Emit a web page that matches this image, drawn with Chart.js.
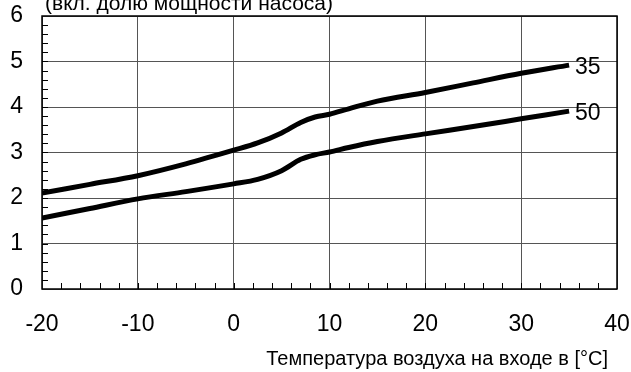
<!DOCTYPE html>
<html lang="ru">
<head>
    <meta charset="UTF-8">
    <title>COP</title>
    <script src="https://cdn.jsdelivr.net/npm/chart.js"></script>
    <style>
        body { margin: 0; background: #fff; }
        #wrap { width: 631px; height: 372px; }
    </style>
</head>
<body>
    <div id="wrap"><canvas id="copChart" width="631" height="372"></canvas></div>

    <script>
        // Air inlet temperature, °C
        var temps = [-20, -15, -10, -5, 0, 2.5, 5, 7, 8.5, 10, 12, 15, 20, 25, 30, 35];
        // Flow temperature 35 °C
        var cop35 = [2.11, 2.30, 2.49, 2.75, 3.05, 3.21, 3.43, 3.66, 3.78, 3.84, 3.96, 4.13, 4.32, 4.53, 4.74, 4.92];
        // Flow temperature 50 °C
        var cop50 = [1.56, 1.77, 1.98, 2.14, 2.31, 2.41, 2.60, 2.85, 2.95, 3.01, 3.11, 3.24, 3.41, 3.57, 3.74, 3.91];
        var seriesNames = ['35', '50'];
        var topTitle = '(вкл. долю мощности насоса)';
        var xTitle = 'Температура воздуха на входе в [°C]';

        var fontFamily = '"Liberation Sans", Arial, sans-serif';

        function toPoints(ys) {
            return temps.map(function (t, i) { return { x: t, y: ys[i] }; });
        }

        // frame, inner minor ticks, end labels and texts
        var decorPlugin = {
            id: 'decor',
            afterDraw: function (chart) {
                var ctx = chart.ctx;
                var area = chart.chartArea;
                var xs = chart.scales.x;
                var ys = chart.scales.y;
                ctx.save();

                // minor ticks pointing inward
                ctx.strokeStyle = '#000';
                ctx.lineWidth = 1;
                ctx.beginPath();
                for (var v = 0.2; v < 6; v += 0.2) {
                    var py = Math.round(ys.getPixelForValue(v)) + 0.5;
                    ctx.moveTo(area.left, py);
                    ctx.lineTo(area.left + 6, py);
                }
                for (var t = -18; t < 40; t += 2) {
                    var px = Math.round(xs.getPixelForValue(t)) + 0.5;
                    ctx.moveTo(px, area.bottom);
                    ctx.lineTo(px, area.bottom - 6);
                }
                ctx.stroke();

                // frame
                ctx.lineWidth = 1.5;
                ctx.strokeRect(area.left, area.top, area.right - area.left, area.bottom - area.top);

                // series labels at line ends
                ctx.fillStyle = '#000';
                ctx.font = '23px ' + fontFamily;
                ctx.textAlign = 'left';
                ctx.textBaseline = 'middle';
                chart.data.datasets.forEach(function (ds, i) {
                    var meta = chart.getDatasetMeta(i);
                    var last = meta.data[meta.data.length - 1];
                    ctx.fillText(seriesNames[i], last.x + 6, last.y + 3);
                });

                // texts
                ctx.textBaseline = 'alphabetic';
                ctx.font = '21px ' + fontFamily;
                ctx.fillText(topTitle, 45, 10);
                ctx.font = '20px ' + fontFamily;
                ctx.textAlign = 'right';
                ctx.fillText(xTitle, 608, 365);
                ctx.restore();
            }
        };

        var ctx = document.getElementById('copChart').getContext('2d');
        var myChart = new Chart(ctx, {
            type: 'line',
            data: {
                datasets: [{
                    label: seriesNames[0],
                    data: toPoints(cop35),
                    borderColor: '#000',
                    borderWidth: 5,
                    pointRadius: 0,
                    cubicInterpolationMode: 'monotone',
                    fill: false
                }, {
                    label: seriesNames[1],
                    data: toPoints(cop50),
                    borderColor: '#000',
                    borderWidth: 5,
                    pointRadius: 0,
                    cubicInterpolationMode: 'monotone',
                    fill: false
                }]
            },
            options: {
                responsive: false,
                animation: false,
                layout: { padding: { top: 16, right: 14, left: 0, bottom: 0 } },
                plugins: {
                    legend: { display: false },
                    tooltip: { enabled: false }
                },
                scales: {
                    x: {
                        type: 'linear',
                        min: -20,
                        max: 40,
                        border: { display: false },
                        grid: { color: '#555', lineWidth: 1, drawTicks: false },
                        ticks: {
                            stepSize: 10,
                            padding: 22,
                            color: '#000',
                            maxRotation: 0,
                            font: { family: fontFamily, size: 23 }
                        },
                        afterFit: function (scale) {
                            scale.height = 83;
                            scale.paddingLeft = 0;
                            scale.paddingRight = 0;
                        }
                    },
                    y: {
                        min: 0,
                        max: 6,
                        border: { display: false },
                        grid: { color: '#555', lineWidth: 1, drawTicks: false },
                        ticks: {
                            stepSize: 1,
                            padding: 19,
                            color: '#000',
                            font: { family: fontFamily, size: 23 }
                        },
                        afterFit: function (scale) {
                            scale.width = 42;
                            scale.paddingTop = 0;
                            scale.paddingBottom = 0;
                        }
                    }
                }
            },
            plugins: [decorPlugin]
        });
    </script>
</body>
</html>
